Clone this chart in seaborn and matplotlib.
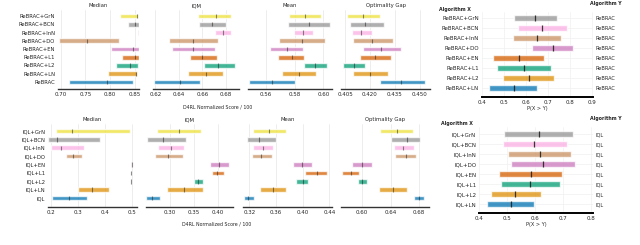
import matplotlib
matplotlib.use("Agg")
import matplotlib.pyplot as plt
import seaborn as sns

sns.set_theme(style="white")
plt.rcParams['font.family'] = ['DejaVu Sans']

W, H = 640, 245
pal = sns.color_palette("colorblind")

metrics = ["Median", "IQM", "Mean", "Optimality Gap"]

# ---- ReBRAC row (bottom to top) ----
rebrac_algs = ["ReBRAC", "ReBRAC+LN", "ReBRAC+L2", "ReBRAC+L1", "ReBRAC+EN",
               "ReBRAC+DO", "ReBRAC+InN", "ReBRAC+BCN", "ReBRAC+GrN"]

rb_median_lo = [0.716, 0.796, 0.812, 0.824, 0.802, 0.696, 0.857, 0.837, 0.820]
rb_median_pt = [0.794, 0.853, 0.841, 0.851, 0.847, 0.753, 0.859, 0.851, 0.855]
rb_median_hi = [0.847, 0.855, 0.857, 0.859, 0.859, 0.818, 0.861, 0.859, 0.857]

rb_iqm_lo = [0.619, 0.648, 0.661, 0.649, 0.634, 0.632, 0.6706, 0.657, 0.6566]
rb_iqm_pt = [0.6405, 0.663, 0.6735, 0.660, 0.652, 0.652, 0.677, 0.668, 0.6715]
rb_iqm_hi = [0.658, 0.677, 0.6875, 0.672, 0.671, 0.673, 0.684, 0.680, 0.6845]

rb_mean_lo = [0.5484, 0.5712, 0.5867, 0.5686, 0.5628, 0.5693, 0.5798, 0.5751, 0.5763]
rb_mean_pt = [0.5644, 0.583, 0.5942, 0.5779, 0.5749, 0.5853, 0.5856, 0.5902, 0.5872]
rb_mean_hi = [0.580, 0.5947, 0.6023, 0.5867, 0.5856, 0.6012, 0.5926, 0.6047, 0.5984]

rb_og_lo = [0.426, 0.410, 0.4039, 0.4142, 0.4158, 0.4096, 0.409, 0.408, 0.4064]
rb_og_pt = [0.4388, 0.4199, 0.4104, 0.4231, 0.4267, 0.4215, 0.4148, 0.4173, 0.4158]
rb_og_hi = [0.4533, 0.4308, 0.4169, 0.4325, 0.4386, 0.4339, 0.4215, 0.4287, 0.426]

# probability of improvement, X = variant, Y = ReBRAC
rb_poi_algs = rebrac_algs[1:]
rb_poi_lo = [0.4335, 0.4948, 0.470, 0.449, 0.628, 0.541, 0.562, 0.5437]
rb_poi_pt = [0.5437, 0.6124, 0.589, 0.5665, 0.7225, 0.651, 0.674, 0.643]
rb_poi_hi = [0.651, 0.729, 0.7117, 0.6835, 0.816, 0.758, 0.7885, 0.7427]

# ---- IQL row (bottom to top) ----
iql_algs = ["IQL", "IQL+LN", "IQL+L2", "IQL+L1", "IQL+EN",
            "IQL+DO", "IQL+InN", "IQL+BCN", "IQL+GrN"]

iq_median_lo = [0.2026, 0.299, 0.496, 0.496, 0.498, 0.2543, 0.200, 0.190, 0.2185]
iq_median_pt = [0.2667, 0.3506, 0.497, 0.497, 0.499, 0.2827, 0.237, 0.221, 0.279]
iq_median_hi = [0.332, 0.416, 0.498, 0.498, 0.500, 0.316, 0.322, 0.3815, 0.4926]

iq_iqm_lo = [0.2494, 0.293, 0.3506, 0.388, 0.3833, 0.2688, 0.2744, 0.2515, 0.2723]
iq_iqm_pt = [0.263, 0.329, 0.359, 0.3985, 0.402, 0.295, 0.302, 0.286, 0.3194]
iq_iqm_hi = [0.279, 0.368, 0.368, 0.4125, 0.4229, 0.3265, 0.3292, 0.3327, 0.3646]

iq_mean_lo = [0.312, 0.3365, 0.390, 0.4035, 0.385, 0.3236, 0.326, 0.317, 0.326]
iq_mean_pt = [0.3185, 0.355, 0.400, 0.421, 0.3986, 0.3375, 0.340, 0.335, 0.350]
iq_mean_hi = [0.327, 0.3746, 0.4085, 0.437, 0.4136, 0.3536, 0.355, 0.360, 0.3746]

iq_og_lo = [0.673, 0.6243, 0.5944, 0.5715, 0.5855, 0.6463, 0.645, 0.640, 0.6253]
iq_og_pt = [0.6805, 0.644, 0.600, 0.5841, 0.5996, 0.6618, 0.658, 0.6636, 0.6487]
iq_og_hi = [0.6875, 0.6628, 0.607, 0.5958, 0.6136, 0.6754, 0.673, 0.682, 0.672]

iq_poi_algs = iql_algs[1:]
iq_poi_lo = [0.4274, 0.442, 0.4774, 0.4726, 0.513, 0.5047, 0.487, 0.489]
iq_poi_pt = [0.5143, 0.5286, 0.582, 0.5857, 0.630, 0.618, 0.5975, 0.614]
iq_poi_hi = [0.5975, 0.620, 0.689, 0.6975, 0.743, 0.7275, 0.713, 0.737]

# axis ticks
rb_ticks = [[0.70, 0.75, 0.80, 0.85], [0.62, 0.64, 0.66, 0.68],
            [0.56, 0.58, 0.60], [0.405, 0.420, 0.435, 0.450]]
rb_tick_fmt = ["%.2f", "%.2f", "%.2f", "%.3f"]
iq_ticks = [[0.2, 0.3, 0.4, 0.5], [0.30, 0.35, 0.40],
            [0.32, 0.36, 0.40, 0.44], [0.60, 0.64, 0.68]]
iq_tick_fmt = ["%.1f", "%.2f", "%.2f", "%.2f"]


def px_axes(fig, x0, x1, y0, y1):
    return fig.add_axes([x0 / W, 1 - y1 / H, (x1 - x0) / W, (y1 - y0) / H])


def metric_panel(ax, lo, pt, hi, title, ticks, fmt, xlim, ylim, labels=None):
    n = len(lo)
    ys = list(range(n))
    widths = [h - l for l, h in zip(lo, hi)]
    ax.barh(ys, widths, left=lo, height=0.55, color=pal[:n], alpha=0.75)
    ax.vlines(pt, [y - 0.27 for y in ys], [y + 0.27 for y in ys],
              color="k", alpha=0.5, lw=0.8)
    ax.set_xlim(*xlim)
    ax.set_ylim(*ylim)
    ax.set_xticks(ticks)
    ax.set_xticklabels([fmt % t for t in ticks])
    ax.set_title(title, fontsize=3.8, pad=2)
    ax.xaxis.grid(True, color="#e6e6e6", lw=0.5)
    ax.set_axisbelow(True)
    for s in ["top", "right", "left"]:
        ax.spines[s].set_visible(False)
    ax.spines["bottom"].set_color("#333333")
    ax.spines["bottom"].set_linewidth(1.0)
    ax.tick_params(axis="both", length=0, labelsize=4, pad=2)
    if labels is None:
        ax.set_yticks([])
    else:
        ax.set_yticks(ys)
        ax.set_yticklabels(labels, fontsize=3.8)


def poi_panel(ax, lo, pt, hi, xlabels, ylabel_right, ticks, xlim, ylim):
    n = len(lo)
    ys = list(range(n))
    widths = [h - l for l, h in zip(lo, hi)]
    ax.barh(ys, widths, left=lo, height=0.6, color=pal[:n], alpha=0.75)
    ax.vlines(pt, [y - 0.3 for y in ys], [y + 0.3 for y in ys],
              color="k", alpha=0.85, lw=0.9)
    ax.set_xlim(*xlim)
    ax.set_ylim(*ylim)
    ax.set_xticks(ticks)
    ax.set_xticklabels(["%.1f" % t for t in ticks])
    ax.set_yticks(ys)
    ax.set_yticklabels(xlabels, fontsize=3.6)
    ax.grid(True, color="#f0f0f0", lw=0.5)
    ax.set_axisbelow(True)
    for s in ["top", "right", "left"]:
        ax.spines[s].set_visible(False)
    ax.spines["bottom"].set_color("black")
    ax.spines["bottom"].set_linewidth(1.4)
    ax.tick_params(axis="both", length=0, labelsize=4, pad=2)
    ax.set_xlabel("P(X > Y)", fontsize=3.6, labelpad=1)
    ax2 = ax.twinx()
    ax2.set_ylim(*ylim)
    ax2.set_yticks(ys)
    ax2.set_yticklabels([ylabel_right] * n, fontsize=3.6)
    ax2.tick_params(axis="y", length=0, pad=2)
    for s in ["top", "right", "left", "bottom"]:
        ax2.spines[s].set_visible(False)
    ax2.grid(False)


fig = plt.figure(figsize=(W / 100, H / 100), dpi=100)

# ---- top row ----
rb_data = [(rb_median_lo, rb_median_pt, rb_median_hi),
           (rb_iqm_lo, rb_iqm_pt, rb_iqm_hi),
           (rb_mean_lo, rb_mean_pt, rb_mean_hi),
           (rb_og_lo, rb_og_pt, rb_og_hi)]
rb_xpx = [(58, 139), (153, 239), (248, 332), (341, 430)]
rb_xlim = [(0.694, 0.859), (0.618, 0.691), (0.5474, 0.606), (0.4025, 0.4563)]
for i, (lo, pt, hi) in enumerate(rb_data):
    ax = px_axes(fig, rb_xpx[i][0], rb_xpx[i][1], 10, 89)
    metric_panel(ax, lo, pt, hi, metrics[i], rb_ticks[i], rb_tick_fmt[i],
                 rb_xlim[i], (-0.85, 8.73),
                 labels=rebrac_algs if i == 0 else None)
fig.text(218 / W, 1 - 107 / H, "D4RL Normalized Score / 100",
         fontsize=3.4, ha="center", va="center")

ax = px_axes(fig, 482, 593, 12, 97)
poi_panel(ax, rb_poi_lo, rb_poi_pt, rb_poi_hi, rb_poi_algs, "ReBRAC",
          [0.4, 0.5, 0.6, 0.7, 0.8, 0.9], (0.4, 0.905), (-0.9, 7.6))
fig.text(455 / W, 1 - 9 / H, "Algorithm X", fontsize=3.4, weight="bold",
         ha="center", va="center")
fig.text(606 / W, 1 - 4 / H, "Algorithm Y", fontsize=3.4, weight="bold",
         ha="center", va="center")

# ---- bottom row ----
iq_data = [(iq_median_lo, iq_median_pt, iq_median_hi),
           (iq_iqm_lo, iq_iqm_pt, iq_iqm_hi),
           (iq_mean_lo, iq_mean_pt, iq_mean_hi),
           (iq_og_lo, iq_og_pt, iq_og_hi)]
iq_xpx = [(48, 137), (146, 233), (243, 332), (341, 429)]
iq_xlim = [(0.189, 0.5185), (0.25, 0.431), (0.3105, 0.444), (0.5705, 0.694)]
for i, (lo, pt, hi) in enumerate(iq_data):
    ax = px_axes(fig, iq_xpx[i][0], iq_xpx[i][1], 124, 207)
    metric_panel(ax, lo, pt, hi, metrics[i], iq_ticks[i], iq_tick_fmt[i],
                 iq_xlim[i], (-1.07, 8.84),
                 labels=iql_algs if i == 0 else None)
fig.text(217 / W, 1 - 224 / H, "D4RL Normalized Score / 100",
         fontsize=3.4, ha="center", va="center")

ax = px_axes(fig, 479, 593, 127, 213)
poi_panel(ax, iq_poi_lo, iq_poi_pt, iq_poi_hi, iq_poi_algs, "IQL",
          [0.4, 0.5, 0.6, 0.7, 0.8], (0.4, 0.807), (-0.9, 7.7))
fig.text(457 / W, 1 - 124 / H, "Algorithm X", fontsize=3.4, weight="bold",
         ha="center", va="center")
fig.text(606 / W, 1 - 118 / H, "Algorithm Y", fontsize=3.4, weight="bold",
         ha="center", va="center")

fig.savefig("out.png", dpi=100)
